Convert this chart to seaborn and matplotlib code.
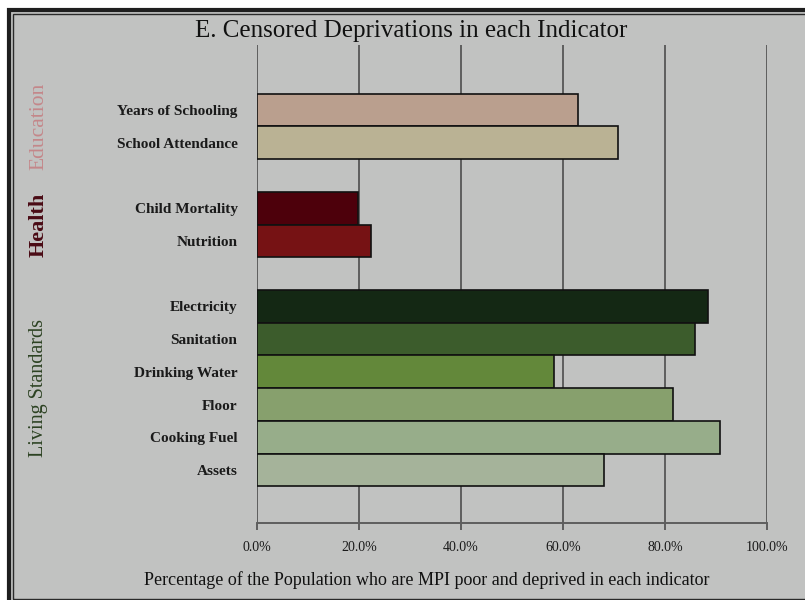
import matplotlib
matplotlib.use("Agg")
import matplotlib.pyplot as plt
import matplotlib.transforms as mtransforms
from matplotlib.patches import Rectangle
from matplotlib.ticker import FuncFormatter
import seaborn as sns
import pandas as pd

# ---- data ----
indicators = ["Years of Schooling", "School Attendance",
              "Child Mortality", "Nutrition",
              "Electricity", "Sanitation", "Drinking Water", "Floor",
              "Cooking Fuel", "Assets"]
values = [62.9, 70.7, 19.9, 22.3, 88.5, 85.8, 58.3, 81.6, 90.8, 68.1]
groups = ["Education", "Education", "Health", "Health",
          "Living Standards", "Living Standards", "Living Standards",
          "Living Standards", "Living Standards", "Living Standards"]
bar_colors = ["#BA9F8E", "#BAB294", "#4D000B", "#761214",
              "#142814", "#3C5C2C", "#63883A", "#87A06D", "#97AD8A", "#A5B39A"]
group_names = ["Education", "Health", "Living Standards"]
group_colors = ["#C4878A", "#4A0A14", "#2C4222"]
group_weights = ["normal", "bold", "normal"]
group_sizes = [15.5, 16, 14.5]
xticks = [0, 20, 40, 60, 80, 100]

title = "E. Censored Deprivations in each Indicator"
xlabel = "Percentage of the Population who are MPI poor and deprived in each indicator"

df = pd.DataFrame({"indicator": indicators, "value": values, "group": groups})

# category order with blank spacer slots between groups
order = []
prev = None
gap = 0
for ind, g in zip(indicators, groups):
    if prev is not None and g != prev:
        order.append("_gap%d" % gap)
        gap += 1
    order.append(ind)
    prev = g

sns.set_theme(style="white")
plt.rcParams["font.family"] = ["Liberation Serif", "DejaVu Serif"]

W, H = 805, 600
fig = plt.figure(figsize=(W / 100, H / 100), dpi=100, facecolor="white")
bg = "#C1C2C1"

# framed panel (cropped at right/bottom like the reference)
fig.patches.append(Rectangle((9 / W, -0.1), 1.2, 1.1 - 10 / H, transform=fig.transFigure,
                             facecolor=bg, edgecolor="#1E1E1E", linewidth=3.0, zorder=-2))
fig.patches.append(Rectangle((13 / W, 1.5 / H), 1.2, 1 - 14 / H - 1.5 / H, transform=fig.transFigure,
                             facecolor="none", edgecolor="#2A2A2A", linewidth=1.0, zorder=-1))

ax = fig.add_axes([257 / W, 1 - 523 / H, (767 - 257) / W, (523 - 45) / H])
ax.set_facecolor("none")

sns.barplot(data=df, y="indicator", x="value", hue="indicator", order=order,
            hue_order=indicators, palette=dict(zip(indicators, bar_colors)),
            saturation=1, width=1.0, edgecolor="#111111", linewidth=1.2,
            legend=False, ax=ax, zorder=3)

ax.set_xlim(0, 100)
ax.set_ylim(len(order) + 0.62, -1.99)
ax.set_xticks(xticks)
ax.xaxis.set_major_formatter(FuncFormatter(lambda v, p: "%.1f%%" % v))
ax.grid(axis="x", color="#5E5E5E", linewidth=1.4, zorder=0)
ax.set_axisbelow(True)
for s in ["top", "right", "left"]:
    ax.spines[s].set_visible(False)
ax.spines["bottom"].set_color("#5E5E5E")
ax.spines["bottom"].set_linewidth(1.4)
ax.tick_params(axis="x", bottom=True, length=5, width=1.4, color="#5E5E5E",
               labelsize=10, labelcolor="#1a1a1a", pad=8)
ax.tick_params(axis="y", left=False, length=0, pad=14, labelsize=11, labelcolor="#1a1a1a")
ax.set_yticks(range(len(order)))
ax.set_yticklabels(["" if o.startswith("_gap") else o for o in order], fontweight="bold")
ax.set_xlabel("")
ax.set_ylabel("")

# group labels
trans = mtransforms.blended_transform_factory(fig.transFigure, ax.transData)
for gname, gcol, gw, gs in zip(group_names, group_colors, group_weights, group_sizes):
    idx = [order.index(i) for i, g in zip(indicators, groups) if g == gname]
    yc = (min(idx) + max(idx)) / 2
    ax.text(39 / W, yc, gname, transform=trans, rotation=90, ha="center", va="center",
            fontsize=gs, color=gcol, fontweight=gw)

fig.text(411 / W, 1 - 31 / H, title, ha="center", va="center", fontsize=18, color="#111111")
fig.text(427 / W, 1 - 580 / H, xlabel, ha="center", va="center", fontsize=13, color="#111111")

fig.savefig("out.png", dpi=100, facecolor="white")
